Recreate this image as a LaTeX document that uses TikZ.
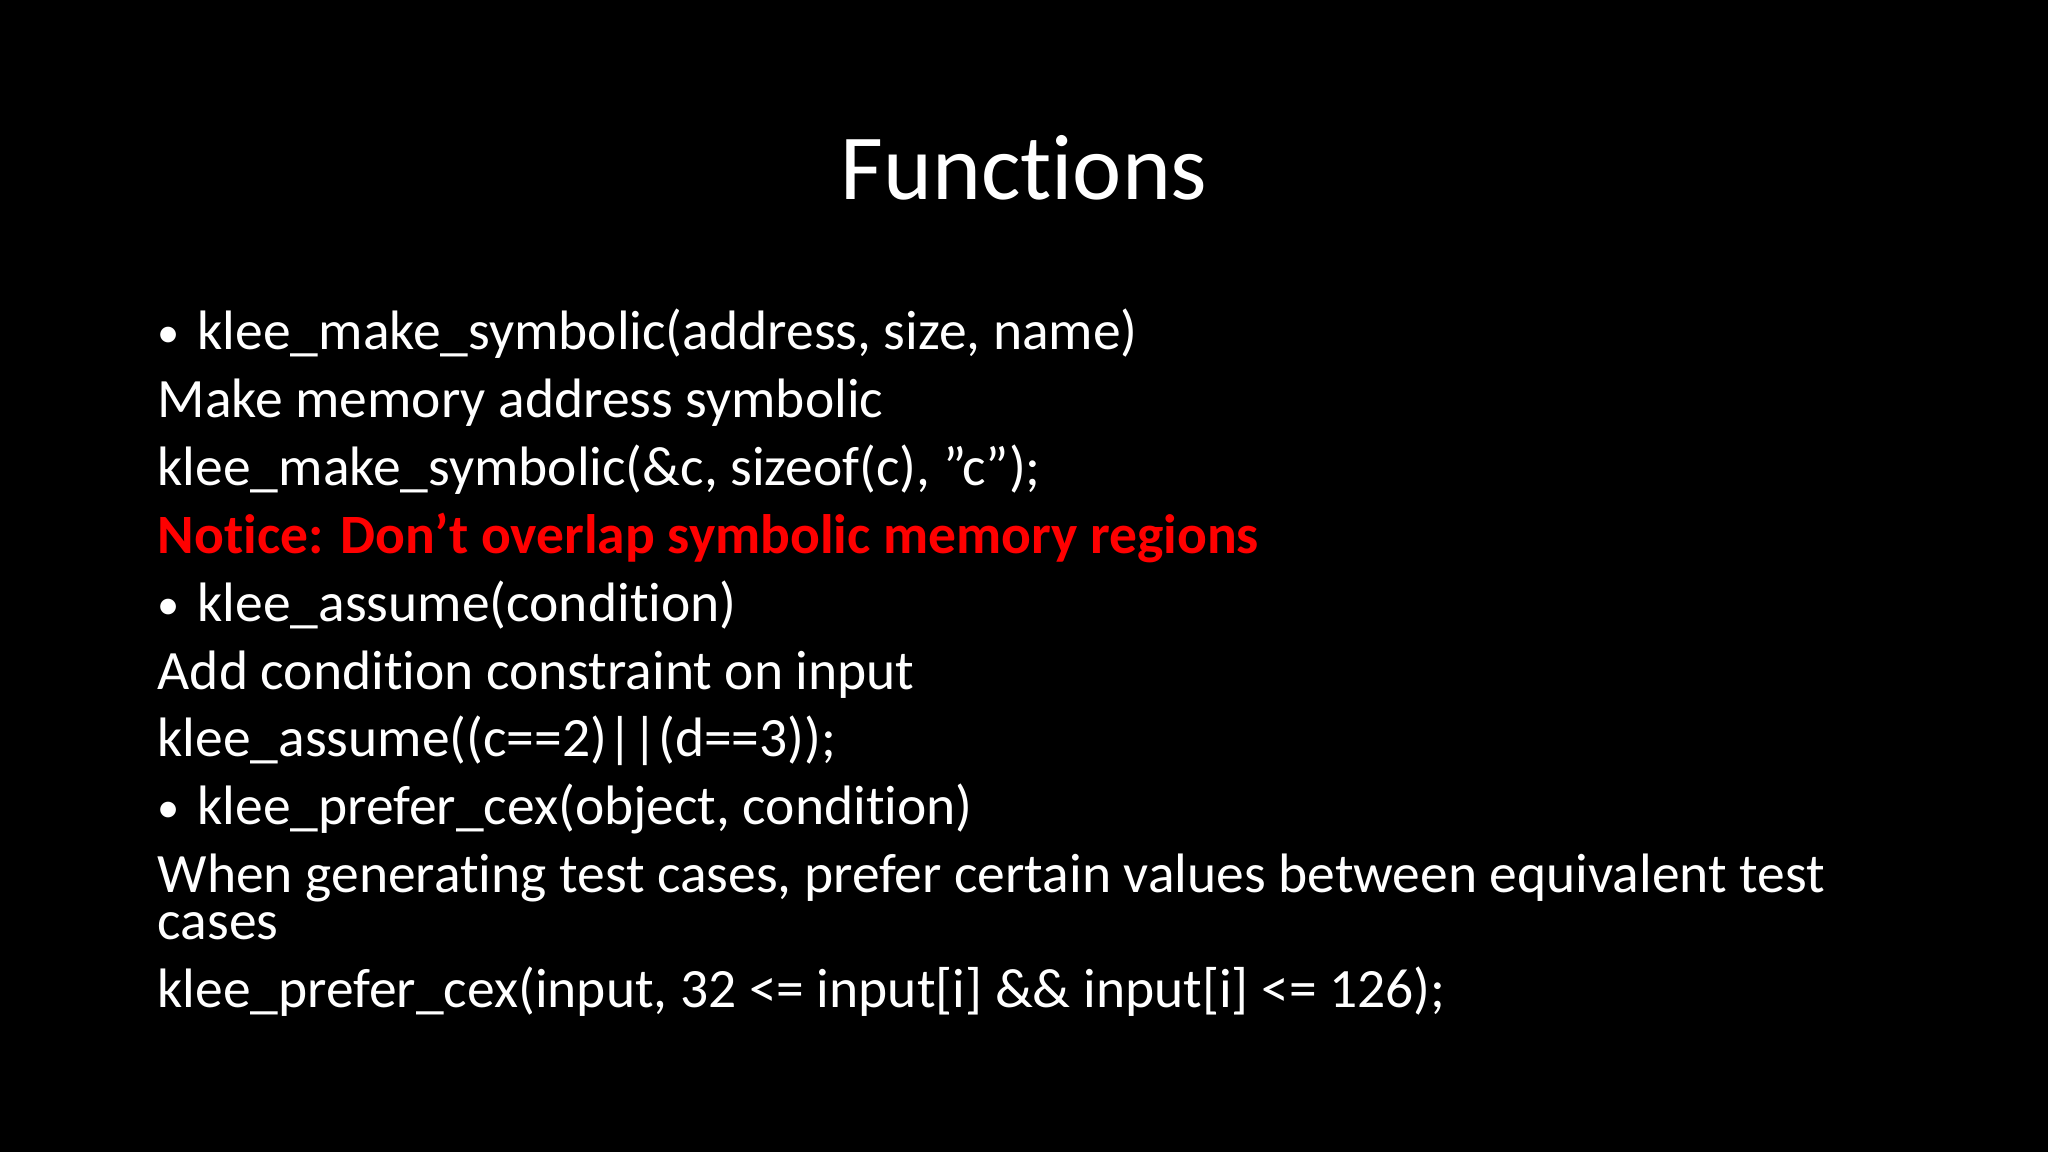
\documentclass[tikz,border=0pt]{standalone}
\usepackage{fontspec}
\defaultfontfeatures{}
\setmainfont[Ligatures=NoCommon]{Carlito}
\newcommand{\mybul}{\makebox[0.40cm][l]{\raisebox{0.05em}{\scalebox{0.8}{\textbullet}}}}
\begin{document}
\begin{tikzpicture}[
  txt/.style={text=white,anchor=base west,inner sep=0pt,font=\fontsize{15.8}{18}\selectfont},
  red/.style={txt,text={rgb,255:red,255;green,0;blue,0},font=\fontsize{15.8}{18}\selectfont\bfseries}]
\fill[black] (0,0) rectangle (20.48,11.52);
\useasboundingbox (0,0) rectangle (20.48,11.52);
\node[text=white,font=\fontsize{26.5}{30}\selectfont,anchor=base,inner sep=0pt] (title) at (10.24,9.52) {Functions};
\node[txt] (b1) at (1.57,8.02) {\mybul klee\_make\_symbolic(address, size, name)};
\node[txt] (l2) at (1.57,7.34) {Make memory address symbolic};
\node[txt] (l3) at (1.57,6.66) {klee\_make\_symbolic(\&c, sizeof(c), "c");};
\node[red] (l4) at (1.57,5.98) {Notice: Don't overlap symbolic memory regions};
\node[txt] (b2) at (1.57,5.30) {\mybul klee\_assume(condition)};
\node[txt] (l6) at (1.57,4.62) {Add condition constraint on input};
\node[txt] (l7) at (1.57,3.95) {klee\_assume((c==2)||(d==3));};
\node[txt] (b3) at (1.57,3.27) {\mybul klee\_prefer\_cex(object, condition)};
\node[txt] (l9) at (1.57,2.59) {When generating test cases, prefer certain values between equivalent test};
\node[txt] (l10) at (1.57,2.12) {cases};
\node[txt] (l11) at (1.57,1.44) {klee\_prefer\_cex(input, 32 <= input[i] \&\& input[i] <= 126);};
\end{tikzpicture}
\end{document}
